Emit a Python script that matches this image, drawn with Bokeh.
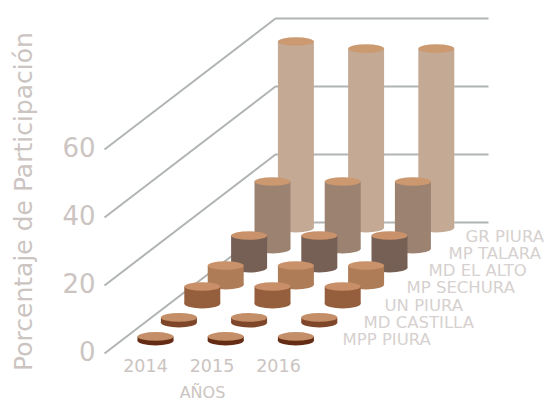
from bokeh.plotting import figure
from bokeh.models import Range1d, ColumnDataSource
from bokeh.core.properties import value
from bokeh.embed import file_html
from bokeh.resources import INLINE

years = ["2014", "2015", "2016"]
series = ["MPP PIURA", "MD CASTILLA", "UN PIURA", "MP SECHURA", "MD EL ALTO", "MP TALARA", "GR PIURA"]
mpp_piura = [1.2, 1.2, 1.2]
md_castilla = [1.5, 1.5, 1.5]
un_piura = [5.0, 5.0, 5.0]
mp_sechura = [5.6, 5.6, 5.6]
md_el_alto = [9.4, 9.4, 9.4]
mp_talara = [19.7, 19.7, 19.7]
gr_piura = [54.7, 52.6, 52.6]
y_ticks = [0, 20, 40, 60]
body_colors = ["#652c15", "#7f4729", "#955e3d", "#ae7d58", "#766055", "#9b8271", "#c4aa95"]
top_colors = ["#c48f68", "#c48f68", "#c88f68", "#c9926a", "#c9926a", "#cb986f", "#cb9a70"]
all_values = [mpp_piura, md_castilla, un_piura, mp_sechura, md_el_alto, mp_talara, gr_piura]

W, H = 544, 403
p = figure(width=W, height=H, x_range=Range1d(0, 544), y_range=Range1d(403, 0),
           output_backend="svg", toolbar_location=None, min_border=0,
           outline_line_color=None, background_fill_color="white", border_fill_color="white")
p.xaxis.visible = False
p.yaxis.visible = False
p.xgrid.visible = False
p.ygrid.visible = False

SC = 3.4          # px per unit of value
Y0 = 353          # front floor level
FLOOR = [340, 322, 303, 284, 267, 248, 227]
LABEL_X = [342, 363, 384, 406, 428, 448, 465]
def X(year_i, ser_i):
    return 155 + 70.2 * year_i + 23.4 * ser_i

GRID = "#b0b5b3"
for t in y_ticks:
    yf = Y0 - t * SC
    p.line([104, 275, 488], [yf, yf - 131, yf - 131], line_color=GRID, line_width=2)

R, RY = 18, 4.3
for si in range(len(series) - 1, -1, -1):
    vals = all_values[si]
    xs = [X(i, si) for i in range(3)]
    base = FLOOR[si]
    tops = [base - v * SC for v in vals]
    src = ColumnDataSource(dict(x=xs, top=tops, bottom=[base] * 3))
    p.ellipse(x="x", y="bottom", width=2 * R, height=2 * RY + 1.6, source=src,
              fill_color=body_colors[si], line_color=None)
    p.vbar(x="x", top="top", bottom="bottom", width=2 * R, source=src,
           fill_color=body_colors[si], line_color=None)
    p.ellipse(x="x", y="top", width=2 * R, height=2 * RY, source=src,
              fill_color=top_colors[si], line_color=None)

FONT = value("DejaVu Sans")
TEXT = "#cbc4c1"
p.text(x=[95] * 4, y=[Y0 - t * SC - 3 for t in y_ticks], text=[str(t) for t in y_ticks],
       text_font=FONT, text_font_size="26px", text_color=TEXT,
       text_align="right", text_baseline="middle")
p.text(x=[145 + 66.5 * i for i in range(3)], y=[365] * 3, text=years,
       text_font=FONT, text_font_size="17.5px", text_color=TEXT,
       text_align="center", text_baseline="middle")
p.text(x=[202], y=[392], text=["AÑOS"], text_font=FONT, text_font_size="16px",
       text_color=TEXT, text_align="center", text_baseline="middle")
p.text(x=LABEL_X, y=[339 - 17.2 * i for i in range(7)], text=series,
       text_font=FONT, text_font_size="16.5px", text_color="#d6d1cf",
       text_align="left", text_baseline="middle")
p.text(x=[23], y=[201], text=["Porcentaje de Participación"], angle=[1.5708],
       text_font=FONT, text_font_size="25px", text_color=TEXT,
       text_align="center", text_baseline="middle")

open("out.html", "w").write(file_html(p, INLINE))
